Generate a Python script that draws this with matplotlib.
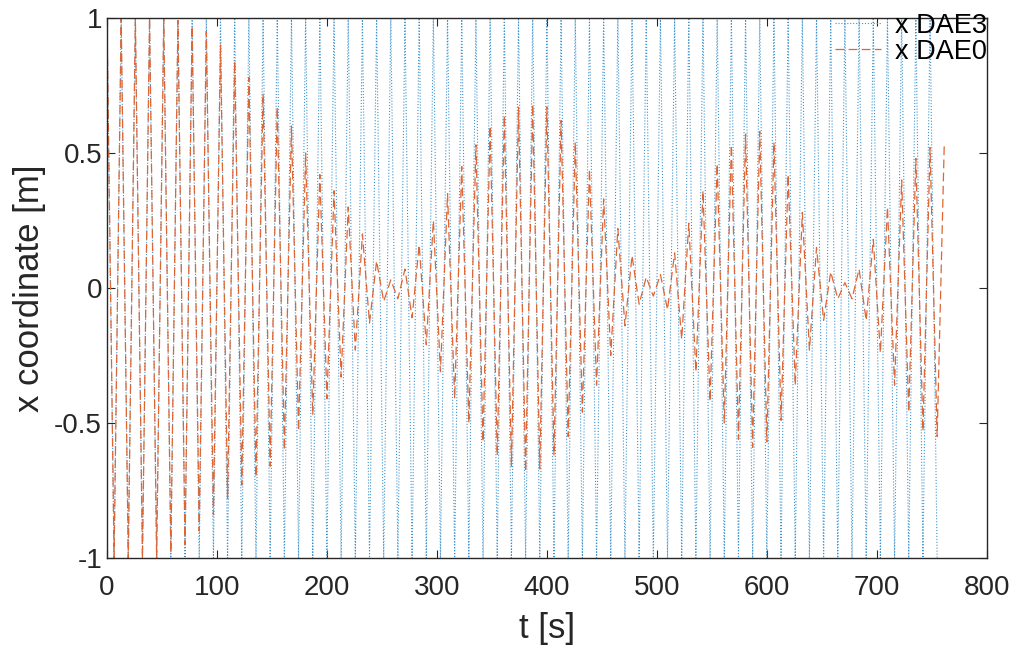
import numpy as np
import matplotlib
matplotlib.use("Agg")
import matplotlib.pyplot as plt

# sample step of the logged solution [s]
dt = 6.45

# x DAE3: swings full range every sample
x_dae3 = [1, -1] * 59

# x DAE0: upper turning points (even samples) and lower turning points (odd samples)
dae0_upper = [1.0, 1.0, 1.0, 1.0, 1.0, 0.99, 0.97, 0.95, 0.9, 0.84,
              0.78, 0.72, 0.67, 0.6, 0.5, 0.42, 0.36, 0.3, 0.2, 0.1,
              0.03, 0.07, 0.16, 0.25, 0.35, 0.45, 0.53, 0.6, 0.64, 0.67,
              0.68, 0.67, 0.62, 0.54, 0.44, 0.33, 0.22, 0.12, 0.04, 0.05,
              0.13, 0.24, 0.36, 0.46, 0.53, 0.57, 0.58, 0.54, 0.42, 0.28,
              0.15, 0.06, 0.02, 0.07, 0.18, 0.3, 0.4, 0.48, 0.52, 0.53]
dae0_lower = [-1.0, -1.0, -1.0, -1.0, -0.98, -0.95, -0.9, -0.84, -0.78, -0.73,
              -0.7, -0.66, -0.6, -0.53, -0.47, -0.41, -0.33, -0.23, -0.13, -0.05,
              -0.04, -0.11, -0.21, -0.31, -0.41, -0.5, -0.57, -0.62, -0.66, -0.68,
              -0.67, -0.62, -0.55, -0.46, -0.36, -0.25, -0.14, -0.06, -0.03, -0.08,
              -0.19, -0.31, -0.42, -0.5, -0.56, -0.59, -0.57, -0.49, -0.36, -0.23,
              -0.12, -0.04, -0.04, -0.12, -0.24, -0.36, -0.46, -0.53, -0.55]

x_dae0 = []
for i in range(len(dae0_upper)):
    x_dae0.append(dae0_upper[i])
    if i < len(dae0_lower):
        x_dae0.append(dae0_lower[i])

t3 = np.arange(len(x_dae3)) * dt
t0 = np.arange(len(x_dae0)) * dt

plt.rcParams['font.family'] = ['Liberation Sans Narrow', 'Liberation Sans', 'DejaVu Sans']

fig = plt.figure(figsize=(10.14, 6.49), dpi=100)
ax = fig.add_axes([0.1055, 0.1402, 0.8679, 0.8321])

ax.plot(t3, x_dae3, ':', color='#3F94CC', lw=0.8, label='x DAE3')
ax.plot(t0, x_dae0, '--', color='#DD6634', lw=0.9, label='x DAE0', dashes=(7, 3.5))

ax.set_xlim(0, 800)
ax.set_ylim(-1, 1)
ax.set_xticks(range(0, 801, 100))
ax.set_yticks([-1, -0.5, 0, 0.5, 1])
ax.set_yticklabels(['-1', '-0.5', '0', '0.5', '1'])
ax.tick_params(direction='in', top=True, right=True, labelsize=20, length=6, colors='#262626')
ax.tick_params(axis='x', pad=12)
for s in ax.spines.values():
    s.set_color('#262626')
    s.set_linewidth(1.0)

ax.set_xlabel('t [s]', fontsize=25, color='#262626', labelpad=8)
ax.set_ylabel('x coordinate [m]', fontsize=25, color='#262626', labelpad=6)

leg = ax.legend(loc='upper right', frameon=False, fontsize=19.5, handlelength=1.7,
                handletextpad=0.5, borderaxespad=0.0, borderpad=0.0, labelspacing=0.0,
                bbox_to_anchor=(1.0, 1.01))

fig.savefig('out.png', dpi=100)
